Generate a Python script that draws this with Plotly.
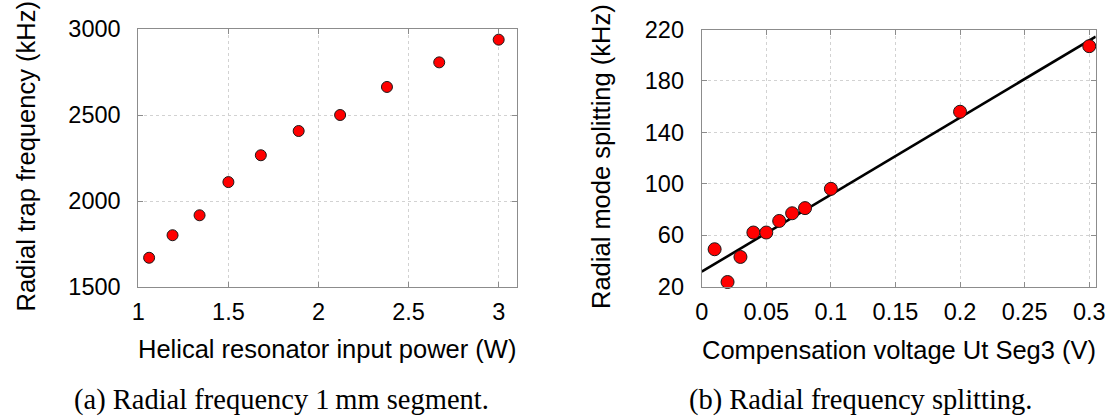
import plotly.graph_objects as go

# ---- data ----
power_w = [1.06, 1.19, 1.34, 1.50, 1.68, 1.89, 2.12, 2.38, 2.67, 3.00]
trap_freq_khz = [1670, 1801, 1917, 2110, 2266, 2407, 2500, 2663, 2806, 2938]

comp_voltage_v = [0.01, 0.02, 0.03, 0.04, 0.05, 0.06, 0.07, 0.08, 0.10, 0.20, 0.30]
mode_splitting_khz = [49, 23.5, 43, 62, 62, 71, 77, 81, 96, 156, 207]

fit_x = [0.0, 0.305]
fit_y = [31.5, 214.5]

W, H = 1113, 418
SANS = "Liberation Sans"
SERIF = "Liberation Serif"

fig = go.Figure()

fig.add_trace(go.Scatter(
    x=power_w, y=trap_freq_khz, mode="markers", xaxis="x", yaxis="y",
    marker=dict(size=11, color="#ff0000", line=dict(color="#1a1a1a", width=1)),
    cliponaxis=False, showlegend=False))

fig.add_trace(go.Scatter(
    x=fit_x, y=fit_y, mode="lines", xaxis="x2", yaxis="y2",
    line=dict(color="black", width=2.6), showlegend=False))

fig.add_trace(go.Scatter(
    x=comp_voltage_v, y=mode_splitting_khz, mode="markers", xaxis="x2", yaxis="y2",
    marker=dict(size=13, color="#ff0000", line=dict(color="#1a1a1a", width=1)),
    cliponaxis=False, showlegend=False))

axis_common = dict(
    showgrid=True, gridcolor="#d2d2d2", griddash="dot", gridwidth=1,
    showline=True, linecolor="#8c8c8c", linewidth=1, mirror="ticks",
    ticks="inside", ticklen=5, tickcolor="#8c8c8c",
    zeroline=False, tickfont=dict(family=SANS, size=23.5, color="black"),
    automargin=False,
)

def px_x(p):
    return p / W

def px_y(p):
    return 1 - p / H

fig.update_layout(
    width=W, height=H,
    margin=dict(l=0, r=0, t=0, b=0),
    paper_bgcolor="white", plot_bgcolor="white",
    xaxis=dict(domain=[px_x(138.3), px_x(516.7)], range=[1, 3.1],
               tick0=1, dtick=0.5, anchor="y", ticklabelstandoff=4, **axis_common),
    yaxis=dict(domain=[px_y(287), px_y(29)], range=[1500, 3000],
               tick0=1500, dtick=500, anchor="x", ticklabelstandoff=12, **axis_common),
    xaxis2=dict(domain=[px_x(701.7), px_x(1095.7)], range=[0, 0.305],
                tick0=0, dtick=0.05, anchor="y2", ticklabelstandoff=4, **axis_common),
    yaxis2=dict(domain=[px_y(286.5), px_y(29.5)], range=[20, 220],
                tick0=20, dtick=40, anchor="x2", ticklabelstandoff=12, **axis_common),
)

annots = [
    dict(text="Helical resonator input power (W)", x=px_x(327), y=px_y(349),
         textangle=0, font=dict(family=SANS, size=25.5)),
    dict(text="Compensation voltage Ut Seg3 (V)", x=px_x(898.5), y=px_y(350),
         textangle=0, font=dict(family=SANS, size=25.5)),
    dict(text="Radial trap frequency (kHz)", x=px_x(25), y=px_y(156.5),
         textangle=-90, font=dict(family=SANS, size=25.5)),
    dict(text="Radial mode splitting (kHz)", x=px_x(601), y=px_y(157),
         textangle=-90, font=dict(family=SANS, size=25.5)),
    dict(text="(a) Radial frequency 1\u2009mm segment.", x=px_x(281), y=px_y(400),
         textangle=0, font=dict(family=SERIF, size=28.5)),
    dict(text="(b) Radial frequency splitting.", x=px_x(861), y=px_y(400),
         textangle=0, font=dict(family=SERIF, size=28.5)),
]
for a in annots:
    a["font"]["color"] = "black"
    fig.add_annotation(xref="paper", yref="paper", showarrow=False,
                       xanchor="center", yanchor="middle", **a)

fig.write_html("out.html")
